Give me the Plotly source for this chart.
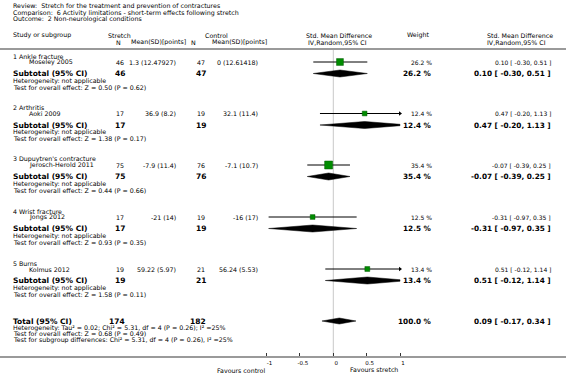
import plotly.graph_objects as go

W, H = 566, 380

# ---------------- data ----------------
header_lines = [
    "Review:\u00a0\u00a0Stretch for the treatment and prevention of contractures",
    "Comparison:\u00a0\u00a06 Activity limitations - short-term effects following stretch",
    "Outcome:\u00a0\u00a02 Non-neurological conditions",
]
groups = ["1 Ankle fracture", "2 Arthritis", "3 Dupuytren's contracture",
          "4 Wrist fracture", "5 Burns"]
studies = ["Moseley 2005", "Aoki 2009", "Jerosch-Herold 2011", "Jongs 2012", "Kolmus 2012"]
stretch_n = [46, 17, 75, 17, 19]
stretch_msd = ["1.3 (12.47927)", "36.9 (8.2)", "-7.9 (11.4)", "-21 (14)", "59.22 (5.97)"]
control_n = [47, 19, 76, 19, 21]
control_msd = ["0 (12.61418)", "32.1 (11.4)", "-7.1 (10.7)", "-16 (17)", "56.24 (5.53)"]
weights = [26.2, 12.4, 35.4, 12.5, 13.4]
smd = [0.10, 0.47, -0.07, -0.31, 0.51]
ci_lo = [-0.30, -0.20, -0.39, -0.97, -0.12]
ci_hi = [0.51, 1.13, 0.25, 0.35, 1.14]
overall_z = ["Z = 0.50 (P = 0.62)", "Z = 1.38 (P = 0.17)", "Z = 0.44 (P = 0.66)",
             "Z = 0.93 (P = 0.35)", "Z = 1.58 (P = 0.11)"]
total_n = [174, 182]
total_weight = 100.0
total_est = [0.09, -0.17, 0.34]
total_notes = [
    "Heterogeneity: Tau\u00b2 = 0.02; Chi\u00b2 = 5.31, df = 4 (P = 0.26); I\u00b2 =25%",
    "Test for overall effect: Z = 0.68 (P = 0.49)",
    "Test for subgroup differences: Chi\u00b2 = 5.31, df = 4 (P = 0.26), I\u00b2 =25%",
]
tick_vals = [-1, -0.5, 0, 0.5, 1]
tick_text = ["-1", "-0.5", "0", "0.5", "1"]
favours = ["Favours control", "Favours stretch"]

# ---------------- layout helpers ----------------
FONT = "DejaVu Sans"
ann = []


def txt(x, y, s, size=6.3, bold=False, anchor="left"):
    ann.append(dict(x=x / W, y=y, xref="paper", yref="y",
                    text=f"<b>{s}</b>" if bold else s, showarrow=False,
                    xanchor=anchor, yanchor="middle", borderpad=0,
                    font=dict(size=size, family=FONT, color="black")))


fig = go.Figure()

# header
for i, line in enumerate(header_lines):
    txt(12, 6 + i * 6.5, line)
txt(12, 35, "Study or subgroup")
txt(119, 35, "Stretch", anchor="center")
txt(122, 42, "N", anchor="right")
txt(187, 42, "Mean(SD)[points]", anchor="right")
txt(216, 35, "Control", anchor="center")
txt(197, 42, "N", anchor="right")
txt(268, 42, "Mean(SD)[points]", anchor="right")
txt(305, 35, "Std. Mean Difference")
txt(307, 42, "IV,Random,95% CI")
txt(406, 35, "Weight")
txt(486, 35, "Std. Mean Difference")
txt(486, 42, "IV,Random,95% CI")

X_SN, X_SM, X_CN, X_CM, X_W, X_CI = 125, 177, 206, 259, 433, 552
group_y = [56, 107.5, 159, 211, 263]

green = "#008c00"
XMAX = 1.0


def diamond(est, lo, hi, y, h):
    xs, ys = [lo, est], [y, y - h]
    if hi > XMAX:
        f = (hi - XMAX) / (hi - est)
        xs += [XMAX, XMAX]
        ys += [y - h * f, y + h * f]
    else:
        xs += [hi]
        ys += [y]
    xs += [est, lo]
    ys += [y + h, y]
    fig.add_trace(go.Scatter(x=xs, y=ys, mode="lines", fill="toself",
                             fillcolor="black", line=dict(color="black", width=0.5),
                             hoverinfo="skip", showlegend=False))


for g in range(len(groups)):
    y0 = group_y[g]
    ys, yt = y0 + 6, y0 + 17.5
    txt(12, y0, groups[g])
    txt(28, ys, studies[g])
    txt(X_SN, ys, str(stretch_n[g]), anchor="right")
    txt(X_SM, ys, stretch_msd[g], anchor="right")
    txt(X_CN, ys, str(control_n[g]), anchor="right")
    txt(X_CM, ys, control_msd[g], anchor="right")
    txt(X_W, ys, f"{weights[g]:.1f} %", size=6.0, anchor="right")
    txt(X_CI, ys, f"{smd[g]:.2f} [ {ci_lo[g]:.2f}, {ci_hi[g]:.2f} ]", size=6.0, anchor="right")
    # subtotal
    txt(12, yt, "Subtotal (95% CI)", size=7.5, bold=True)
    txt(X_SN + 1, yt, str(stretch_n[g]), size=7.5, bold=True, anchor="right")
    txt(X_CN + 1, yt, str(control_n[g]), size=7.5, bold=True, anchor="right")
    txt(X_W, yt, f"{weights[g]:.1f} %", size=7.3, bold=True, anchor="right")
    txt(X_CI, yt, f"{smd[g]:.2f} [ {ci_lo[g]:.2f}, {ci_hi[g]:.2f} ]", size=7.3, bold=True, anchor="right")
    txt(12, y0 + 24.5, "Heterogeneity: not applicable")
    txt(12, y0 + 31, "Test for overall effect: " + overall_z[g])

    # CI line
    hi_c = min(ci_hi[g], XMAX)
    fig.add_trace(go.Scatter(x=[ci_lo[g], hi_c], y=[ys, ys], mode="lines",
                             line=dict(color="black", width=1), hoverinfo="skip",
                             showlegend=False))
    if ci_hi[g] > XMAX:
        fig.add_trace(go.Scatter(x=[XMAX], y=[ys], mode="markers",
                                 marker=dict(symbol="triangle-right", size=4, color="black"),
                                 hoverinfo="skip", showlegend=False))
    # square
    fig.add_trace(go.Scatter(x=[smd[g]], y=[ys], mode="markers",
                             marker=dict(symbol="square", size=8 * (weights[g] / 35.4) ** 0.5,
                                         color=green, line=dict(color="#005a00", width=0.5)),
                             hoverinfo="skip", showlegend=False))
    diamond(smd[g], ci_lo[g], ci_hi[g], yt, 3.5)

# total
YT = 321
txt(12, YT, "Total (95% CI)", size=7.5, bold=True)
txt(X_SN + 1, YT, str(total_n[0]), size=7.5, bold=True, anchor="right")
txt(X_CN + 1, YT, str(total_n[1]), size=7.5, bold=True, anchor="right")
txt(X_W, YT, f"{total_weight:.1f} %", size=7.3, bold=True, anchor="right")
txt(X_CI, YT, f"{total_est[0]:.2f} [ {total_est[1]:.2f}, {total_est[2]:.2f} ]", size=7.3,
    bold=True, anchor="right")
for i, s in enumerate(total_notes):
    txt(12, YT + 6.5 + i * 6, s)
diamond(total_est[0], total_est[1], total_est[2], YT, 3.0)

# favours labels
txt(266, 370, favours[0], anchor="right")
txt(399, 369, favours[1], anchor="right")

AXIS_Y = 357
shapes = [
    dict(type="line", xref="paper", yref="y", x0=0, x1=1, y0=49, y1=49,
         line=dict(color="#9a9a9a", width=2)),
    dict(type="line", xref="x", yref="y", x0=0, x1=0, y0=50, y1=AXIS_Y,
         line=dict(color="#c8c8c8", width=1), layer="below"),
]

x_left = -333.3 / 66.7
x_right = (W - 333.3) / 66.7

fig.update_layout(
    width=W, height=H, margin=dict(l=0, r=0, t=0, b=0, pad=0),
    paper_bgcolor="white", plot_bgcolor="white",
    annotations=ann, shapes=shapes, showlegend=False,
    xaxis=dict(range=[x_left, x_right], domain=[0, 1], anchor="free",
               position=(H - AXIS_Y) / H, showgrid=False, zeroline=False,
               showline=True, linecolor="#9a9a9a", linewidth=2,
               tickmode="array", tickvals=tick_vals, ticktext=tick_text,
               ticks="inside", ticklen=3, tickcolor="#333", tickwidth=1,
               tickfont=dict(size=5.5, family=FONT, color="black"),
               ticklabelshift=3, ticklabelstandoff=0, fixedrange=True),
    yaxis=dict(range=[H, 0], domain=[0, 1], visible=False, showgrid=False,
               zeroline=False, fixedrange=True),
)

fig.write_html(
    "out.html",
    config={"displayModeBar": False, "staticPlot": True},
    post_script="document.body.style.margin='0';document.body.style.overflow='hidden';",
)
